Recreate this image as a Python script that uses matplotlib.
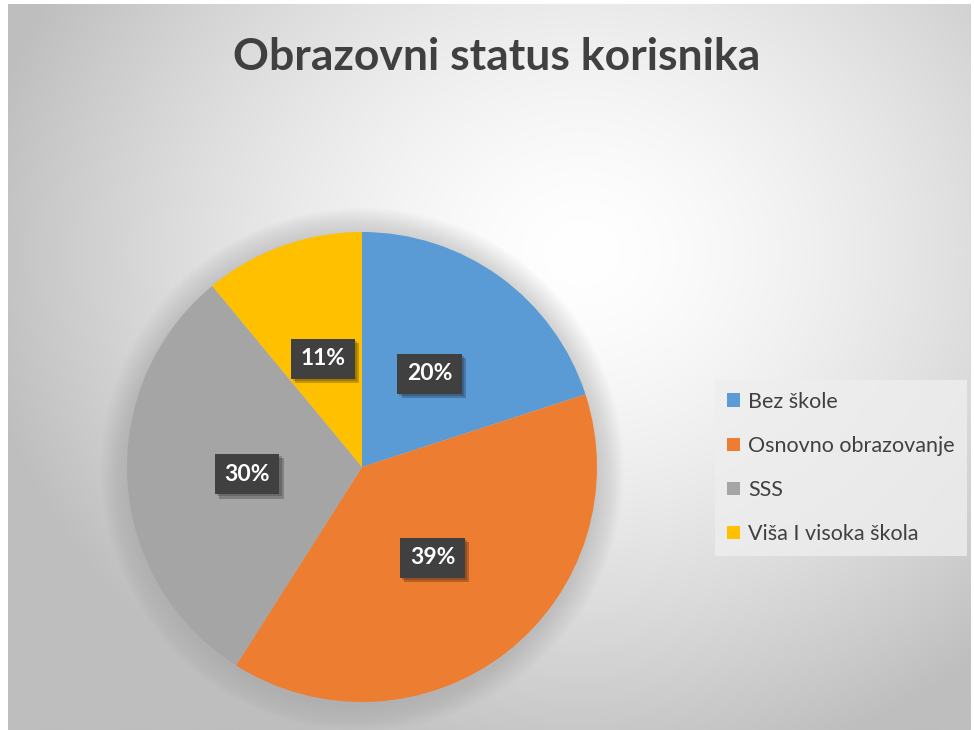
import numpy as np
import matplotlib
matplotlib.use("Agg")
import matplotlib.pyplot as plt
from matplotlib.patches import Circle
import matplotlib.patheffects as pe

categories = ["Bez škole", "Osnovno obrazovanje", "SSS", "Viša I visoka škola"]
values = [20, 39, 30, 11]
colors = ["#5B9BD5", "#ED7D31", "#A5A5A5", "#FFC000"]
title = "Obrazovni status korisnika"

plt.rcParams["font.family"] = ["Lato", "DejaVu Sans"]
plt.rcParams["hatch.color"] = "#5e5e5e"
plt.rcParams["hatch.linewidth"] = 2.0

W, H = 974, 730
fig = plt.figure(figsize=(W / 100, H / 100), dpi=100, facecolor="white")

# gradient background of the chart area
bg = fig.add_axes([8 / W, 0, (971 - 8) / W, 1 - 4 / H])
yy, xx = np.mgrid[0:H, 0:W]
d = np.sqrt(((xx - 580) / 600.0) ** 2 + ((yy - 250) / 520.0) ** 2)
v = 255 - 62 * np.clip(d, 0, 1.3) ** 1.5
v = np.clip(v, 190, 255) / 255.0
bg.imshow(np.dstack([v, v, v]), aspect="auto", extent=[0, 1, 0, 1])
bg.set_axis_off()

# pie axes
R = 235
lim = 1.15
cx, cy = 362, 467
ax = fig.add_axes([(cx - R * lim) / W, (H - cy - R * lim) / H, 2 * R * lim / W, 2 * R * lim / H])
ax.set_axis_off()

# soft glow around the pie
for k in range(14):
    ax.add_patch(Circle((0, -0.01), 1 + 0.008 * (k + 1), color="#999999", alpha=0.03, lw=0, zorder=0))

wedges, texts, autotexts = ax.pie(
    values, colors=colors, startangle=90, counterclock=False,
    autopct="%d%%", pctdistance=0.49, radius=1,
    wedgeprops=dict(linewidth=0), textprops=dict(color="white", fontsize=16.5, fontweight="bold"))
ax.set_xlim(-lim, lim)
ax.set_ylim(-lim, lim)
ax.set_aspect("equal")

for t in autotexts:
    t.set_zorder(5)
    t.set_bbox(dict(boxstyle="square,pad=0.42", facecolor="#404040", edgecolor="none", hatch=".."))
    t.get_bbox_patch().set_path_effects([
        pe.SimplePatchShadow(offset=(3, -3), shadow_rgbFace="black", alpha=0.22),
        pe.SimplePatchShadow(offset=(1.5, -1.5), shadow_rgbFace="black", alpha=0.18),
        pe.Normal()])

fig.text(497 / W, 1 - 57 / H, title, ha="center", va="center", fontsize=32, fontweight="bold", color="#404040")

leg = fig.legend(wedges, categories, loc="center left", bbox_to_anchor=(715 / W, 1 - 468 / H),
                 frameon=True, fontsize=15.5, labelspacing=1.12, handlelength=0.6, handleheight=0.6,
                 handletextpad=0.4, borderpad=0.55, borderaxespad=0, fancybox=False)
leg.get_frame().set_facecolor("#eeeeee")
leg.get_frame().set_alpha(0.8)
leg.get_frame().set_linewidth(0)
for t in leg.get_texts():
    t.set_color("#404040")

fig.savefig("out.png", dpi=100, facecolor="white")
